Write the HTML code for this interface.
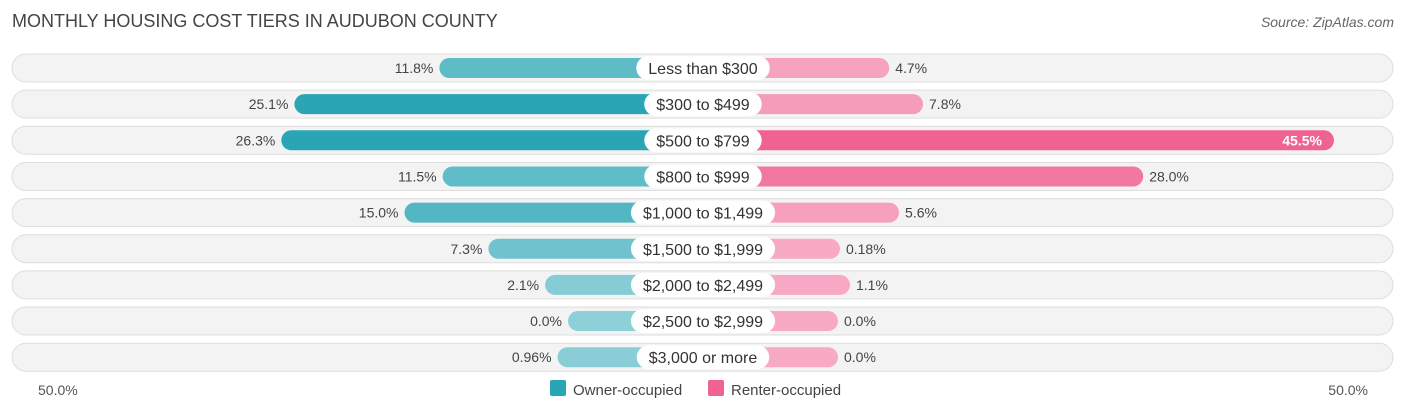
<!DOCTYPE html>
<html><head><meta charset="utf-8"><style>
body{margin:0;background:#fff;font-family:"Liberation Sans",sans-serif;}
svg text{font-family:"Liberation Sans",sans-serif;}
</style></head><body>
<svg width="1406" height="414" xmlns="http://www.w3.org/2000/svg">
<text x="12" y="27" font-size="18" fill="#444">MONTHLY HOUSING COST TIERS IN AUDUBON COUNTY</text>
<text x="1394" y="27" font-size="14" fill="#666" font-style="italic" text-anchor="end">Source: ZipAtlas.com</text>
<g id="rows"></g>
<text x="38" y="395" font-size="14" fill="#555">50.0%</text>
<text x="1368" y="395" font-size="14" fill="#555" text-anchor="end">50.0%</text>
<rect x="550" y="380" width="16" height="16" rx="2" fill="#2aa5b5"/>
<text x="573" y="395" font-size="15" fill="#444">Owner-occupied</text>
<rect x="708" y="380" width="16" height="16" rx="2" fill="#f06292"/>
<text x="731" y="395" font-size="15" fill="#444">Renter-occupied</text>
</svg>
<script>
const categories=["Less than $300","$300 to $499","$500 to $799","$800 to $999","$1,000 to $1,499","$1,500 to $1,999","$2,000 to $2,499","$2,500 to $2,999","$3,000 or more"];
const ownerValues=[11.8,25.1,26.3,11.5,15.0,7.3,2.1,0.0,0.96];
const renterValues=[4.7,7.8,45.5,28.0,5.6,0.18,1.1,0.0,0.0];
const ownerLabels=["11.8%","25.1%","26.3%","11.5%","15.0%","7.3%","2.1%","0.0%","0.96%"];
const renterLabels=["4.7%","7.8%","45.5%","28.0%","5.6%","0.18%","1.1%","0.0%","0.0%"];
const NS="http://www.w3.org/2000/svg";
const g=document.getElementById('rows');
const cx=703, base=135, scale=10.9;
function w(v){return base+scale*v;}
function rowY(i){return 68+i*36.15;}
function mix(a,b,t){return a.map((x,k)=>Math.round(x+(b[k]-x)*t));}
function col(c){return 'rgb('+c.join(',')+')';}
function mk(tag,attrs){const e=document.createElementNS(NS,tag);for(const k in attrs)e.setAttribute(k,attrs[k]);return e;}
categories.forEach((c,i)=>{
  const y=rowY(i);
  const bg=mk('rect',{x:12,y:y-14,width:1381,height:28,rx:14,fill:'#f3f3f3',stroke:'#dedede'});
  
  
  g.appendChild(bg);
  const ow=w(ownerValues[i]);
  const to=Math.min(1,ownerValues[i]/25);
  const ob=mk('rect',{x:cx-ow,y:y-10,width:ow,height:20,rx:10,fill:col(mix([141,208,216],[42,165,181],to))});
  
  
  g.appendChild(ob);
  const rw=w(renterValues[i]);
  const tr=Math.min(1,renterValues[i]/40);
  const rb=mk('rect',{x:cx,y:y-10,width:rw,height:20,rx:10,fill:col(mix([248,170,197],[240,98,146],tr))});
  
  
  g.appendChild(rb);
  const ot=mk('text',{x:cx-ow-6,y:y+5,'font-size':14,fill:'#444','text-anchor':'end'});
  ot.textContent=ownerLabels[i];
  
  
  g.appendChild(ot);
  const inside=renterValues[i]>40;
  const rt=mk('text',{x:inside?cx+rw-12:cx+rw+6,y:y+5,'font-size':14,fill:inside?'#fff':'#444','font-weight':inside?'bold':'normal','text-anchor':inside?'end':'start'});
  rt.textContent=renterLabels[i];
  
  
  g.appendChild(rt);
  const lt=mk('text',{x:cx,y:y+6,'font-size':16,fill:'#333','text-anchor':'middle'});
  lt.textContent=c;
  g.appendChild(lt);
  const lw=lt.getComputedTextLength()+24;
  const pill=mk('rect',{x:cx-lw/2,y:y-12,width:lw,height:24,rx:12,fill:'#fff'});
  
  
  g.insertBefore(pill,lt);
  
  
});
</script>
</body></html>
